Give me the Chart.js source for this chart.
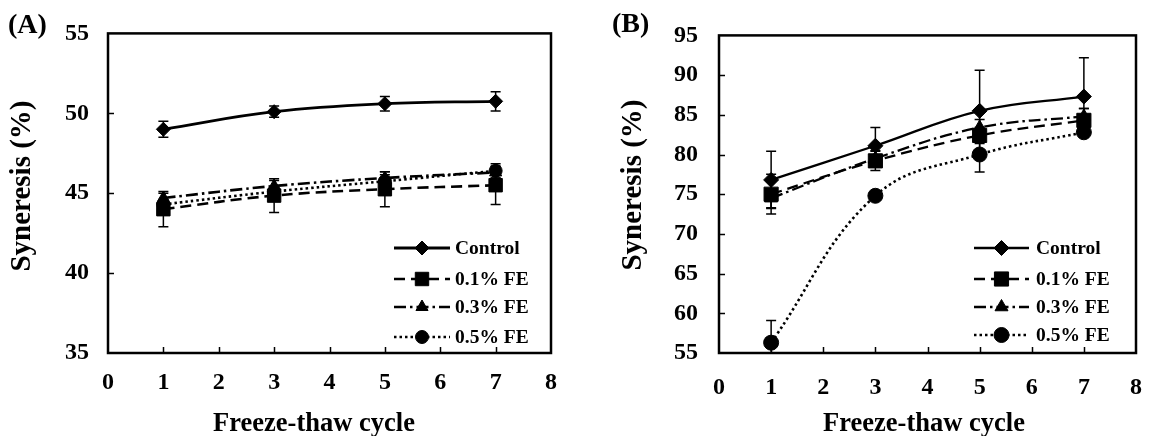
<!DOCTYPE html>
<html><head><meta charset="utf-8">
<script src="https://cdn.jsdelivr.net/npm/chart.js@4.4.1/dist/chart.umd.min.js"></script>
<style>
html,body{margin:0;padding:0;background:#fff;}
#wrap{position:relative;width:1162px;height:436px;overflow:hidden;background:#fff;}
#ca{position:absolute;left:0;top:0;}
#cb{position:absolute;left:580px;top:0;}
</style></head><body>
<div id="wrap"><canvas id="ca" width="580" height="436"></canvas><canvas id="cb" width="582" height="436"></canvas></div>
<script>
// ---------- data ----------
const cycles = [1, 3, 5, 7];
const seriesLabels = ['Control', '0.1% FE', '0.3% FE', '0.5% FE'];
const xTickValues = [0, 1, 2, 3, 4, 5, 6, 7, 8];
const yRangeA = [35, 55];
const yRangeB = [55, 95];
const yStep = 5;
const xTitle = 'Freeze-thaw cycle';
const yTitle = 'Syneresis (%)';
const panelA = '(A)';
const panelB = '(B)';

// Panel A
const controlA = [49.0, 50.1, 50.6, 50.75];
const controlErrA = [0.5, 0.35, 0.45, 0.6];
const fe01A = [44.0, 44.85, 45.25, 45.5];
const fe01ErrA = [1.1, 1.05, 1.1, 1.2];
const fe03A = [44.7, 45.45, 45.95, 46.3];
const fe03ErrA = [0.3, 0.35, 0.4, 0.35];
const fe05A = [44.3, 45.1, 45.75, 46.4];
const fe05ErrA = [0.3, 0.3, 0.4, 0.45];

// Panel B
const controlB = [76.8, 81.1, 85.5, 87.3];
const controlErrB = [3.6, 2.3, 5.1, 4.9];
const fe01B = [75.0, 79.2, 82.4, 84.3];
const fe01ErrB = [2.5, 1.2, 1.0, 1.5];
const fe03B = [74.5, 79.5, 83.4, 84.8];
const fe03ErrB = [1.2, 1.0, 1.0, 1.0];
const fe05B = [56.3, 74.8, 80.0, 82.8];
const fe05ErrB = [2.8, 0.5, 2.2, 0.6];

// ---------- helpers ----------
const SERIF = '"Liberation Serif", "Times New Roman", serif';
const toPts = vals => vals.map((v, i) => ({x: cycles[i], y: v}));

function makeDatasets(vals, errs, s) {
  const styles = [
    {pointStyle: 'rectRot', radius: s.rDiamond, dash: [], width: s.wSolid},
    {pointStyle: 'rect', radius: s.rSquare, dash: s.dash, width: s.wDash},
    {pointStyle: 'triangle', radius: s.rTri, dash: s.dashDot, width: s.wDash},
    {pointStyle: 'circle', radius: s.rCircle, dash: s.dot, width: s.wDot}
  ];
  return vals.map((v, i) => ({
    label: seriesLabels[i],
    data: toPts(v),
    errors: errs[i],
    borderColor: '#000',
    backgroundColor: '#000',
    pointBackgroundColor: '#000',
    pointBorderColor: '#000',
    pointBorderWidth: 1,
    pointStyle: styles[i].pointStyle,
    pointRadius: styles[i].radius,
    pointHoverRadius: styles[i].radius,
    borderWidth: styles[i].width,
    borderDash: styles[i].dash,
    tension: 0.4,
    fill: false
  }));
}

function decorPlugin(cfg) {
  return {
    id: 'decor' + cfg.name,
    beforeDatasetsDraw(chart) {
      const {ctx, chartArea: a, scales: {x, y}} = chart;
      ctx.save();
      ctx.beginPath();
      ctx.rect(a.left, a.top, a.right - a.left, a.bottom - a.top);
      ctx.clip();
      ctx.strokeStyle = '#000';
      ctx.lineWidth = cfg.errWidth;
      ctx.setLineDash([]);
      chart.data.datasets.forEach(ds => {
        ds.data.forEach((p, i) => {
          const e = ds.errors[i];
          if (!e) return;
          const px = x.getPixelForValue(p.x);
          const y1 = y.getPixelForValue(p.y + e);
          const y2 = y.getPixelForValue(p.y - e);
          ctx.beginPath();
          ctx.moveTo(px, y1); ctx.lineTo(px, y2);
          ctx.moveTo(px - cfg.cap, y1); ctx.lineTo(px + cfg.cap, y1);
          ctx.moveTo(px - cfg.cap, y2); ctx.lineTo(px + cfg.cap, y2);
          ctx.stroke();
        });
      });
      ctx.restore();
    },
    afterDraw(chart) {
      const {ctx, chartArea: a, scales: {x, y}} = chart;
      ctx.save();
      ctx.strokeStyle = '#000';
      ctx.fillStyle = '#000';
      ctx.setLineDash([]);
      // inward tick marks
      ctx.lineWidth = 1.5;
      ctx.beginPath();
      x.ticks.forEach(t => {
        if (t.value <= x.min || t.value >= x.max) return;
        const px = Math.round(x.getPixelForValue(t.value)) + 0.5;
        ctx.moveTo(px, a.bottom); ctx.lineTo(px, a.bottom - cfg.tickLen);
      });
      y.ticks.forEach(t => {
        if (t.value <= y.min || t.value >= y.max) return;
        const py = Math.round(y.getPixelForValue(t.value)) + 0.5;
        ctx.moveTo(a.left, py); ctx.lineTo(a.left + cfg.tickLen, py);
      });
      ctx.stroke();
      // frame
      ctx.lineWidth = cfg.frameWidth;
      ctx.strokeRect(a.left, a.top, a.right - a.left, a.bottom - a.top);
      // legend
      chart.data.datasets.forEach((ds, i) => {
        const ry = a.bottom + cfg.legRows[i];
        const x1 = a.right + cfg.legX1, x2 = a.right + cfg.legX2;
        ctx.lineWidth = ds.borderWidth;
        ctx.setLineDash(ds.borderDash || []);
        ctx.beginPath(); ctx.moveTo(x1, ry); ctx.lineTo(x2, ry); ctx.stroke();
        ctx.setLineDash([]);
        ctx.lineWidth = 1;
        Chart.helpers.drawPoint(ctx, {pointStyle: ds.pointStyle, rotation: 0, radius: ds.pointRadius, borderWidth: 1}, (x1 + x2) / 2, ry);
        ctx.font = 'bold ' + cfg.legFont + 'px ' + SERIF;
        ctx.textAlign = 'left';
        ctx.textBaseline = 'middle';
        ctx.fillText(ds.label, a.right + cfg.legText, ry + 1);
      });
      // axis titles
      ctx.font = 'bold ' + cfg.xTitleFont + 'px ' + SERIF;
      ctx.textAlign = 'center';
      ctx.textBaseline = 'alphabetic';
      ctx.fillText(xTitle, cfg.xTitleX, cfg.xTitleY);
      ctx.save();
      ctx.translate(cfg.yTitleX, cfg.yTitleY);
      ctx.rotate(-Math.PI / 2);
      ctx.font = 'bold ' + cfg.yTitleFont + 'px ' + SERIF;
      ctx.textAlign = 'center';
      ctx.textBaseline = 'middle';
      ctx.fillText(yTitle, 0, 0);
      ctx.restore();
      // panel label
      ctx.font = 'bold ' + cfg.panelFont + 'px ' + SERIF;
      ctx.textAlign = 'left';
      ctx.textBaseline = 'alphabetic';
      ctx.fillText(cfg.panel, cfg.panelX, cfg.panelY);
      ctx.restore();
    }
  };
}

function makeChart(canvasId, datasets, yRange, lay, cfg) {
  return new Chart(document.getElementById(canvasId), {
    type: 'line',
    data: {datasets},
    options: {
      responsive: false,
      animation: false,
      events: [],
      devicePixelRatio: 1,
      layout: {padding: {left: 0, right: lay.right, top: lay.top, bottom: 0}},
      plugins: {legend: {display: false}, tooltip: {enabled: false}, title: {display: false}},
      scales: {
        x: {
          type: 'linear', min: xTickValues[0], max: xTickValues[xTickValues.length - 1],
          afterBuildTicks: s => { s.ticks = xTickValues.map(v => ({value: v})); },
          afterFit: s => { s.height = lay.xHeight; },
          grid: {display: false, drawTicks: false},
          border: {display: false},
          ticks: {color: '#000', padding: lay.xPad, font: {family: SERIF, size: lay.tickFont, weight: 'bold'}}
        },
        y: {
          type: 'linear', min: yRange[0], max: yRange[1],
          ticks: {stepSize: yStep, color: '#000', padding: lay.yPad, font: {family: SERIF, size: lay.tickFont, weight: 'bold'}},
          afterFit: s => { s.width = lay.yWidth; },
          grid: {display: false, drawTicks: false},
          border: {display: false}
        }
      }
    },
    plugins: [decorPlugin(cfg)]
  });
}

const styleA = {rDiamond: 7, rSquare: 9.5, rTri: 7, rCircle: 6.5, wSolid: 2.8, wDash: 2.6, wDot: 2.6,
  dash: [11, 6], dashDot: [12, 4, 2.5, 4], dot: [2.5, 3]};
const styleB = {rDiamond: 7.5, rSquare: 10, rTri: 7.5, rCircle: 7.5, wSolid: 2.3, wDash: 2.3, wDot: 2.6,
  dash: [11, 6], dashDot: [12, 4, 2.5, 4], dot: [2.5, 3]};

makeChart('ca',
  makeDatasets([controlA, fe01A, fe03A, fe05A], [controlErrA, fe01ErrA, fe03ErrA, fe05ErrA], styleA),
  yRangeA,
  {right: 29, top: 28, xHeight: 83, yWidth: 108, xPad: 15, yPad: 19, tickFont: 24},
  {name: 'A', errWidth: 1.5, cap: 5, tickLen: 6, frameWidth: 2.5,
   legRows: [-105, -74, -46, -16], legX1: -157, legX2: -101, legText: -96, legFont: 19.5,
   xTitleFont: 26.5, xTitleX: 314, xTitleY: 431, yTitleFont: 29, yTitleX: 23, yTitleY: 186,
   panel: panelA, panelFont: 28, panelX: 8, panelY: 33});

makeChart('cb',
  makeDatasets([controlB, fe01B, fe03B, fe05B], [controlErrB, fe01ErrB, fe03ErrB, fe05ErrB], styleB),
  yRangeB,
  {right: 12, top: 21, xHeight: 83, yWidth: 139, xPad: 20, yPad: 21, tickFont: 24},
  {name: 'B', errWidth: 1.5, cap: 5, tickLen: 6, frameWidth: 2.5,
   legRows: [-105, -74, -46, -18], legX1: -162, legX2: -107, legText: -100, legFont: 19.5,
   xTitleFont: 26.5, xTitleX: 344, xTitleY: 431, yTitleFont: 29, yTitleX: 54, yTitleY: 185,
   panel: panelB, panelFont: 28, panelX: 32, panelY: 32});
</script>
</body></html>
